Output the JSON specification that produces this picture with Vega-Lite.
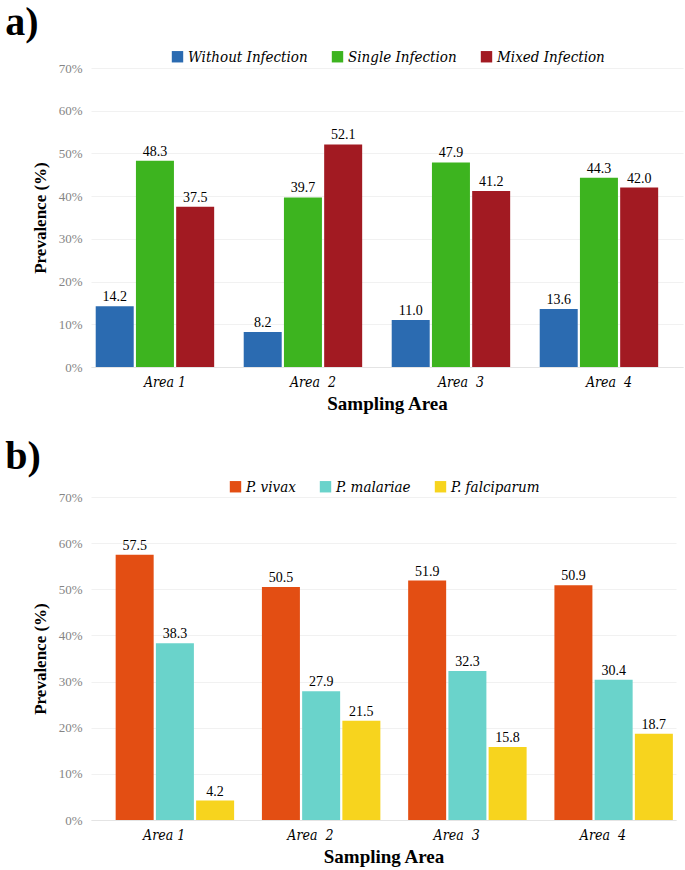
{
  "$schema": "https://vega.github.io/schema/vega-lite/v6.json",
  "background": "white",
  "padding": {"left": 5, "top": 3, "right": 5, "bottom": 2},
  "datasets": {
    "infection": [
      {"area": "Area 1", "type": "Without Infection", "value": 14.2},
      {"area": "Area 1", "type": "Single Infection", "value": 48.3},
      {"area": "Area 1", "type": "Mixed Infection", "value": 37.5},
      {"area": "Area\u00a0\u00a02", "type": "Without Infection", "value": 8.2},
      {"area": "Area\u00a0\u00a02", "type": "Single Infection", "value": 39.7},
      {"area": "Area\u00a0\u00a02", "type": "Mixed Infection", "value": 52.1},
      {"area": "Area\u00a0\u00a03", "type": "Without Infection", "value": 11.0},
      {"area": "Area\u00a0\u00a03", "type": "Single Infection", "value": 47.9},
      {"area": "Area\u00a0\u00a03", "type": "Mixed Infection", "value": 41.2},
      {"area": "Area\u00a0\u00a04", "type": "Without Infection", "value": 13.6},
      {"area": "Area\u00a0\u00a04", "type": "Single Infection", "value": 44.3},
      {"area": "Area\u00a0\u00a04", "type": "Mixed Infection", "value": 42.0}
    ],
    "species": [
      {"area": "Area 1", "type": "P. vivax", "value": 57.5},
      {"area": "Area 1", "type": "P. malariae", "value": 38.3},
      {"area": "Area 1", "type": "P. falciparum", "value": 4.2},
      {"area": "Area\u00a0\u00a02", "type": "P. vivax", "value": 50.5},
      {"area": "Area\u00a0\u00a02", "type": "P. malariae", "value": 27.9},
      {"area": "Area\u00a0\u00a02", "type": "P. falciparum", "value": 21.5},
      {"area": "Area\u00a0\u00a03", "type": "P. vivax", "value": 51.9},
      {"area": "Area\u00a0\u00a03", "type": "P. malariae", "value": 32.3},
      {"area": "Area\u00a0\u00a03", "type": "P. falciparum", "value": 15.8},
      {"area": "Area\u00a0\u00a04", "type": "P. vivax", "value": 50.9},
      {"area": "Area\u00a0\u00a04", "type": "P. malariae", "value": 30.4},
      {"area": "Area\u00a0\u00a04", "type": "P. falciparum", "value": 18.7}
    ]
  },
  "resolve": {"scale": {"color": "independent", "x": "independent", "y": "independent"}, "legend": {"color": "independent"}},
  "spacing": 24,
  "vconcat": [
    {
      "width": 592,
      "height": 299,
      "data": {"name": "infection"},
      "title": {"text": "a)", "anchor": "start", "frame": "bounds", "dx": -26, "offset": 6, "fontSize": 40, "font": "Times New Roman, serif", "fontWeight": "bold", "color": "black"},
      "encoding": {
        "x": {"field": "area", "type": "nominal", "sort": null,
          "scale": {"paddingInner": 0.19, "paddingOuter": 0.095},
          "axis": {"title": "Sampling Area", "labelAngle": 0}},
        "xOffset": {"field": "type", "type": "nominal", "sort": ["Without Infection", "Single Infection", "Mixed Infection"], "scale": {"type": "band", "paddingInner": 0.04, "paddingOuter": 0}},
        "y": {"field": "value", "type": "quantitative",
          "scale": {"domain": [0, 70]},
          "axis": {"title": "Prevalence (%)", "values": [0, 10, 20, 30, 40, 50, 60, 70], "labelExpr": "datum.value + '%'"}}
      },
      "layer": [
        {
          "mark": {"type": "bar", "width": 38},
          "encoding": {
            "color": {"field": "type", "type": "nominal",
              "scale": {"domain": ["Without Infection", "Single Infection", "Mixed Infection"], "range": ["#2B6BB1", "#3DB41F", "#A21A22"]},
              "legend": {"title": null, "orient": "top", "direction": "horizontal", "offset": 3}}
          }
        },
        {
          "mark": {"type": "text", "dy": -9, "font": "Times New Roman, serif", "fontSize": 14, "color": "black"},
          "encoding": {"text": {"field": "value", "type": "quantitative", "format": ".1f"}}
        }
      ]
    },
    {
      "width": 585,
      "height": 323,
      "data": {"name": "species"},
      "title": {"text": "b)", "anchor": "start", "frame": "bounds", "dx": -26, "offset": 2, "fontSize": 40, "font": "Times New Roman, serif", "fontWeight": "bold", "color": "black"},
      "encoding": {
        "x": {"field": "area", "type": "nominal", "sort": null,
          "scale": {"paddingInner": 0.19, "paddingOuter": 0.095},
          "axis": {"title": "Sampling Area", "labelAngle": 0}},
        "xOffset": {"field": "type", "type": "nominal", "sort": ["P. vivax", "P. malariae", "P. falciparum"], "scale": {"type": "band", "paddingInner": 0.04, "paddingOuter": 0}},
        "y": {"field": "value", "type": "quantitative",
          "scale": {"domain": [0, 70]},
          "axis": {"title": "Prevalence (%)", "values": [0, 10, 20, 30, 40, 50, 60, 70], "labelExpr": "datum.value + '%'"}}
      },
      "layer": [
        {
          "mark": {"type": "bar", "width": 38},
          "encoding": {
            "color": {"field": "type", "type": "nominal",
              "scale": {"domain": ["P. vivax", "P. malariae", "P. falciparum"], "range": ["#E34E13", "#6AD3CB", "#F7D41E"]},
              "legend": {"title": null, "orient": "top", "direction": "horizontal", "offset": 2}}
          }
        },
        {
          "mark": {"type": "text", "dy": -9, "font": "Times New Roman, serif", "fontSize": 14, "color": "black"},
          "encoding": {"text": {"field": "value", "type": "quantitative", "format": ".1f"}}
        }
      ]
    }
  ],
  "config": {
    "view": {"stroke": null},
    "font": "Times New Roman, serif",
    "axisX": {"domainColor": "#e4e4e4", "ticks": false, "grid": false, "labelFont": "DejaVu Serif Condensed", "labelFontStyle": "italic", "labelFontSize": 14, "labelColor": "black", "labelPadding": 8, "titleFont": "Times New Roman, serif", "titleFontSize": 19, "titleFontWeight": "bold", "titleColor": "black", "titlePadding": 5},
    "axisY": {"domain": false, "ticks": false, "gridColor": "#f1f1f1", "labelFont": "Times New Roman, serif", "labelFontSize": 13, "labelColor": "#858585", "labelPadding": 9, "titleFont": "Times New Roman, serif", "titleFontSize": 17, "titleFontWeight": "bold", "titleColor": "black", "titlePadding": 9},
    "legend": {"labelFont": "DejaVu Serif Condensed", "labelFontSize": 15, "labelFontStyle": "italic", "labelColor": "black", "symbolType": "square", "symbolSize": 130, "symbolStrokeWidth": 0, "symbolOffset": 0, "labelOffset": 3, "columnPadding": 22, "padding": 0, "layout": {"top": {"anchor": "middle"}}}
  }
}
